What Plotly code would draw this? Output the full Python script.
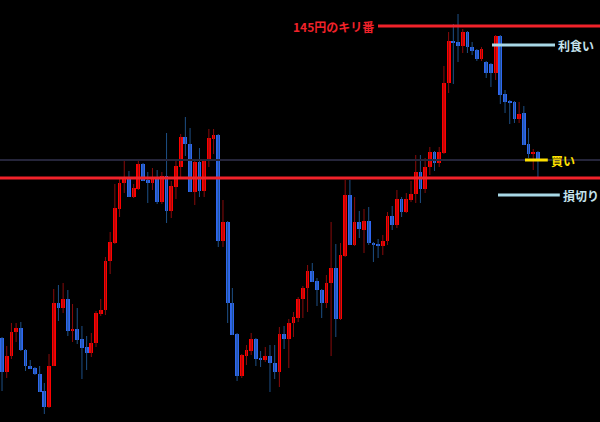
import plotly.graph_objects as go

opens = [141.88,141.54,141.70,141.94,141.98,141.76,141.60,141.58,141.52,141.35,
         141.19,141.60,142.23,142.18,142.27,141.95,141.97,141.87,141.79,141.73,
         141.83,142.12,142.16,142.65,142.83,143.17,143.43,143.47,143.29,143.37,
         143.62,143.46,143.43,143.48,143.24,143.50,143.15,143.39,143.59,143.89,
         143.82,143.34,143.64,143.35,143.65,143.87,143.91,142.85,143.04,142.23,
         141.92,141.50,141.70,141.75,141.87,141.68,141.66,141.70,141.63,141.54,
         141.92,141.87,142.03,142.08,142.27,142.38,142.55,142.45,142.36,142.23,
         142.43,142.58,142.07,142.70,143.31,142.81,143.04,142.96,143.05,142.83,
         142.81,142.80,142.85,143.10,143.01,143.27,143.14,143.26,143.32,143.54,
         143.37,143.59,143.74,143.63,143.73,144.43,144.85,144.84,144.80,144.94,
         144.79,144.76,144.67,144.64,144.62,144.53,144.90,144.32,144.25,144.24,
         144.07,144.13,143.82,143.72,143.74]
highs = [141.89,141.80,142.03,142.03,142.04,141.77,141.66,141.59,141.60,141.43,
         141.72,142.37,142.41,142.43,142.36,142.22,142.18,142.00,141.90,141.93,
         142.15,142.27,142.69,142.94,143.42,143.49,143.66,143.55,143.42,143.66,
         143.63,143.54,143.58,143.56,143.54,143.93,143.45,143.66,143.92,144.09,
         143.98,143.66,143.78,143.66,143.97,143.97,143.92,143.26,143.05,142.38,
         141.93,141.72,141.81,141.93,141.88,141.75,141.79,141.81,141.81,141.99,
         142.00,142.07,142.14,142.29,142.40,142.61,142.63,142.48,142.37,142.51,
         143.04,142.82,142.83,143.46,143.46,143.29,143.15,143.17,143.19,142.84,
         142.87,142.91,143.14,143.20,143.36,143.29,143.33,143.45,143.71,143.71,
         143.68,143.79,143.75,143.79,144.60,144.94,145.02,145.12,144.97,144.95,
         144.84,144.77,144.79,144.65,144.63,144.91,144.91,144.36,144.26,144.25,
         144.24,144.20,143.98,143.77,143.75]
lows = [141.35,141.48,141.67,141.84,141.75,141.55,141.57,141.51,141.34,141.12,
        141.18,141.60,142.05,142.13,141.90,141.84,141.82,141.47,141.56,141.69,
        141.79,142.10,142.11,142.52,142.82,143.09,143.33,143.29,143.28,143.36,
        143.45,143.23,143.36,143.22,143.22,143.03,143.08,143.27,143.49,143.70,
        143.34,143.21,143.29,143.29,143.59,143.72,142.79,142.79,142.03,141.91,
        141.45,141.48,141.61,141.71,141.60,141.59,141.64,141.34,141.47,141.39,
        141.77,141.58,141.89,142.04,142.08,142.14,142.44,142.20,142.08,142.18,
        141.70,141.89,142.06,142.69,142.81,142.80,142.88,142.73,142.81,142.64,
        142.68,142.71,142.81,142.96,142.98,143.09,143.13,143.24,143.23,143.23,
        143.33,143.51,143.55,143.59,143.72,144.33,144.42,144.64,144.73,144.73,
        144.71,144.65,144.65,144.48,144.39,144.46,144.22,144.13,144.02,144.03,
        144.03,143.81,143.68,143.56,143.49]
closes = [141.54,141.70,141.94,141.98,141.76,141.60,141.57,141.52,141.34,141.19,
          141.60,142.23,142.18,142.27,141.95,141.97,141.86,141.78,141.73,141.83,
          142.13,142.16,142.65,142.84,143.18,143.43,143.49,143.29,143.38,143.62,
          143.45,143.43,143.48,143.24,143.50,143.15,143.40,143.60,143.89,143.82,
          143.34,143.64,143.35,143.65,143.88,143.91,142.85,143.04,142.23,141.91,
          141.50,141.71,141.76,141.87,141.67,141.66,141.70,141.63,141.54,141.92,
          141.87,142.03,142.09,142.27,142.38,142.55,142.44,142.36,142.23,142.43,
          142.58,142.07,142.71,143.31,142.81,143.04,142.97,143.05,142.83,142.81,
          142.80,142.85,143.10,143.01,143.27,143.14,143.27,143.32,143.54,143.37,
          143.59,143.74,143.63,143.74,144.43,144.85,144.83,144.80,144.94,144.79,
          144.75,144.67,144.77,144.53,144.53,144.90,144.31,144.24,144.23,144.07,
          144.12,143.81,143.72,143.74,143.66]

level_kiriban = 145.00
level_resist = 143.48
level_entry = 143.66
level_tp = 144.81
level_sl = 143.31

UP_BODY = "#ff0000"
UP_WICK = "#8a0b0b"
DN_BODY = "#2f67f0"
DN_WICK = "#1d4f86"

n = len(opens)
xs = list(range(n))
up = [i for i in xs if closes[i] >= opens[i]]
dn = [i for i in xs if closes[i] < opens[i]]

def wick_xy(idx):
    wx, wy = [], []
    for i in idx:
        wx += [i, i, None]
        wy += [lows[i], highs[i], None]
    return wx, wy

MIN_H = 0.012
fig = go.Figure()
for idx, wc in ((up, UP_WICK), (dn, DN_WICK)):
    wx, wy = wick_xy(idx)
    fig.add_trace(go.Scatter(x=wx, y=wy, mode="lines",
                             line=dict(color=wc, width=1), hoverinfo="skip"))
for idx, bc in ((up, UP_BODY), (dn, DN_BODY)):
    base = [min(opens[i], closes[i]) for i in idx]
    hgt = [max(abs(closes[i] - opens[i]), MIN_H) for i in idx]
    fig.add_trace(go.Bar(x=idx, y=hgt, base=base, width=0.8,
                         marker=dict(color=bc, line=dict(width=0))))

shapes = [
    dict(type="line", xref="paper", x0=0, x1=1, y0=level_entry, y1=level_entry,
         line=dict(color="#25253a", width=2)),
    dict(type="line", xref="paper", x0=0, x1=1, y0=level_resist, y1=level_resist,
         line=dict(color="#f0222a", width=3)),
    dict(type="line", xref="paper", x0=0.63, x1=1, y0=level_kiriban, y1=level_kiriban,
         line=dict(color="#f0222a", width=3)),
    dict(type="line", xref="paper", x0=0.82, x1=0.925, y0=level_tp, y1=level_tp,
         line=dict(color="#a8d8e6", width=3)),
    dict(type="line", xref="paper", x0=0.875, x1=0.913, y0=level_entry, y1=level_entry,
         line=dict(color="#ffe000", width=3)),
    dict(type="line", xref="paper", x0=0.83, x1=0.933, y0=level_sl, y1=level_sl,
         line=dict(color="#a8d8e6", width=3)),
]
FONT = "Noto Sans CJK JP"
annotations = [
    dict(x=0.627, xref="paper", y=level_kiriban, text="<b>145円のキリ番</b>", showarrow=False,
         xanchor="right", yanchor="middle", font=dict(family=FONT, size=12, color="#f0222a")),
    dict(x=0.927, xref="paper", y=level_tp, text="<b>利食い</b>", showarrow=False,
         xanchor="left", yanchor="middle", font=dict(family=FONT, size=12, color="#c4e2ec")),
    dict(x=0.915, xref="paper", y=level_entry, text="<b>買い</b>", showarrow=False,
         xanchor="left", yanchor="middle", font=dict(family=FONT, size=12, color="#ffe000")),
    dict(x=0.935, xref="paper", y=level_sl, text="<b>損切り</b>", showarrow=False,
         xanchor="left", yanchor="middle", font=dict(family=FONT, size=12, color="#c4e2ec")),
]

fig.update_layout(
    width=600, height=422, margin=dict(l=0, r=0, t=0, b=0),
    paper_bgcolor="#000000", plot_bgcolor="#000000",
    showlegend=False, barmode="overlay", bargap=0,
    shapes=shapes, annotations=annotations,
    xaxis=dict(range=[-0.43, 127.2], visible=False, showgrid=False, zeroline=False),
    yaxis=dict(range=[141.04, 145.26], visible=False, showgrid=False, zeroline=False),
)
fig.write_html("out.html", config={"displayModeBar": False},
               post_script="document.body.style.margin='0';document.body.style.overflow='hidden';")
